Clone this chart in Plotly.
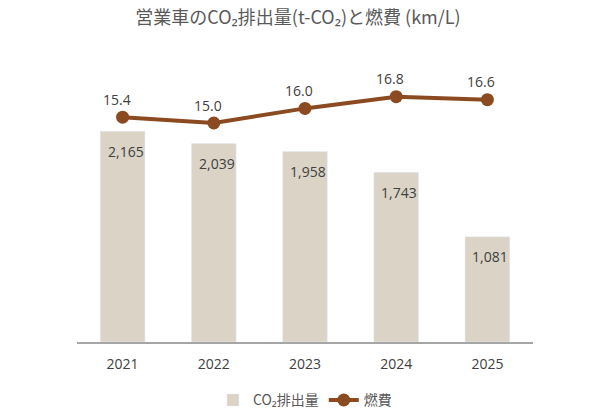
import plotly.graph_objects as go

years = ["2021", "2022", "2023", "2024", "2025"]
co2 = [2165, 2039, 1958, 1743, 1081]
fuel = [15.4, 15.0, 16.0, 16.8, 16.6]
co2_labels = ["2,165", "2,039", "1,958", "1,743", "1,081"]
fuel_labels = ["15.4", "15.0", "16.0", "16.8", "16.6"]

font_family = "Noto Sans CJK JP, Noto Sans, sans-serif"
num_font = "Open Sans, Noto Sans, sans-serif"
text_col = "#404040"

fig = go.Figure()
fig.add_trace(go.Bar(
    x=years, y=co2, name="CO₂排出量",
    marker=dict(color="#DAD3C6"),
    width=0.49,
    hoverinfo="skip",
))
fig.add_trace(go.Scatter(
    x=years, y=fuel, name="燃費", yaxis="y2",
    mode="lines+markers",
    line=dict(color="#8B4A20", width=4),
    marker=dict(color="#8B4A20", size=13),
))

annotations = []
for i, (yv, t) in enumerate(zip(co2, co2_labels)):
    annotations.append(dict(x=i, y=yv, xref="x", yref="y", text=t, showarrow=False,
                            xshift=3, yshift=-20, yanchor="middle",
                            font=dict(size=14, color=text_col, family=num_font)))
for i, (yv, t) in enumerate(zip(fuel, fuel_labels)):
    annotations.append(dict(x=i, y=yv, xref="x", yref="y2", text=t, showarrow=False,
                            xshift=-6, yshift=18, yanchor="middle",
                            font=dict(size=14, color=text_col, family=num_font)))

fig.update_layout(
    width=596, height=420,
    margin=dict(l=77, r=63, t=50, b=78, autoexpand=False),
    paper_bgcolor="white", plot_bgcolor="white",
    title=dict(text="営業車のCO₂排出量(t-CO₂)と燃費 (km/L)", x=0.5, xanchor="center",
               y=0.958, yanchor="middle",
               font=dict(size=18, color="#595959", family=font_family)),
    xaxis=dict(type="category", range=[-0.5, len(years) - 0.5], showline=True,
               linecolor="#A6A6A6", linewidth=1.5, ticks="", automargin=False,
               ticklabelstandoff=8, showgrid=False,
               tickfont=dict(size=14, color=text_col, family=num_font)),
    yaxis=dict(range=[0, 3000], visible=False, showgrid=False),
    yaxis2=dict(range=[0, 20], overlaying="y", side="right", visible=False, showgrid=False),
    legend=dict(orientation="h", x=0.5, xanchor="center", y=-0.2, yanchor="middle",
                font=dict(size=14, color="#595959", family=font_family),
                itemwidth=30, traceorder="normal"),
    bargap=0.51,
    annotations=annotations,
    showlegend=True,
)

fig.write_html("out.html")
